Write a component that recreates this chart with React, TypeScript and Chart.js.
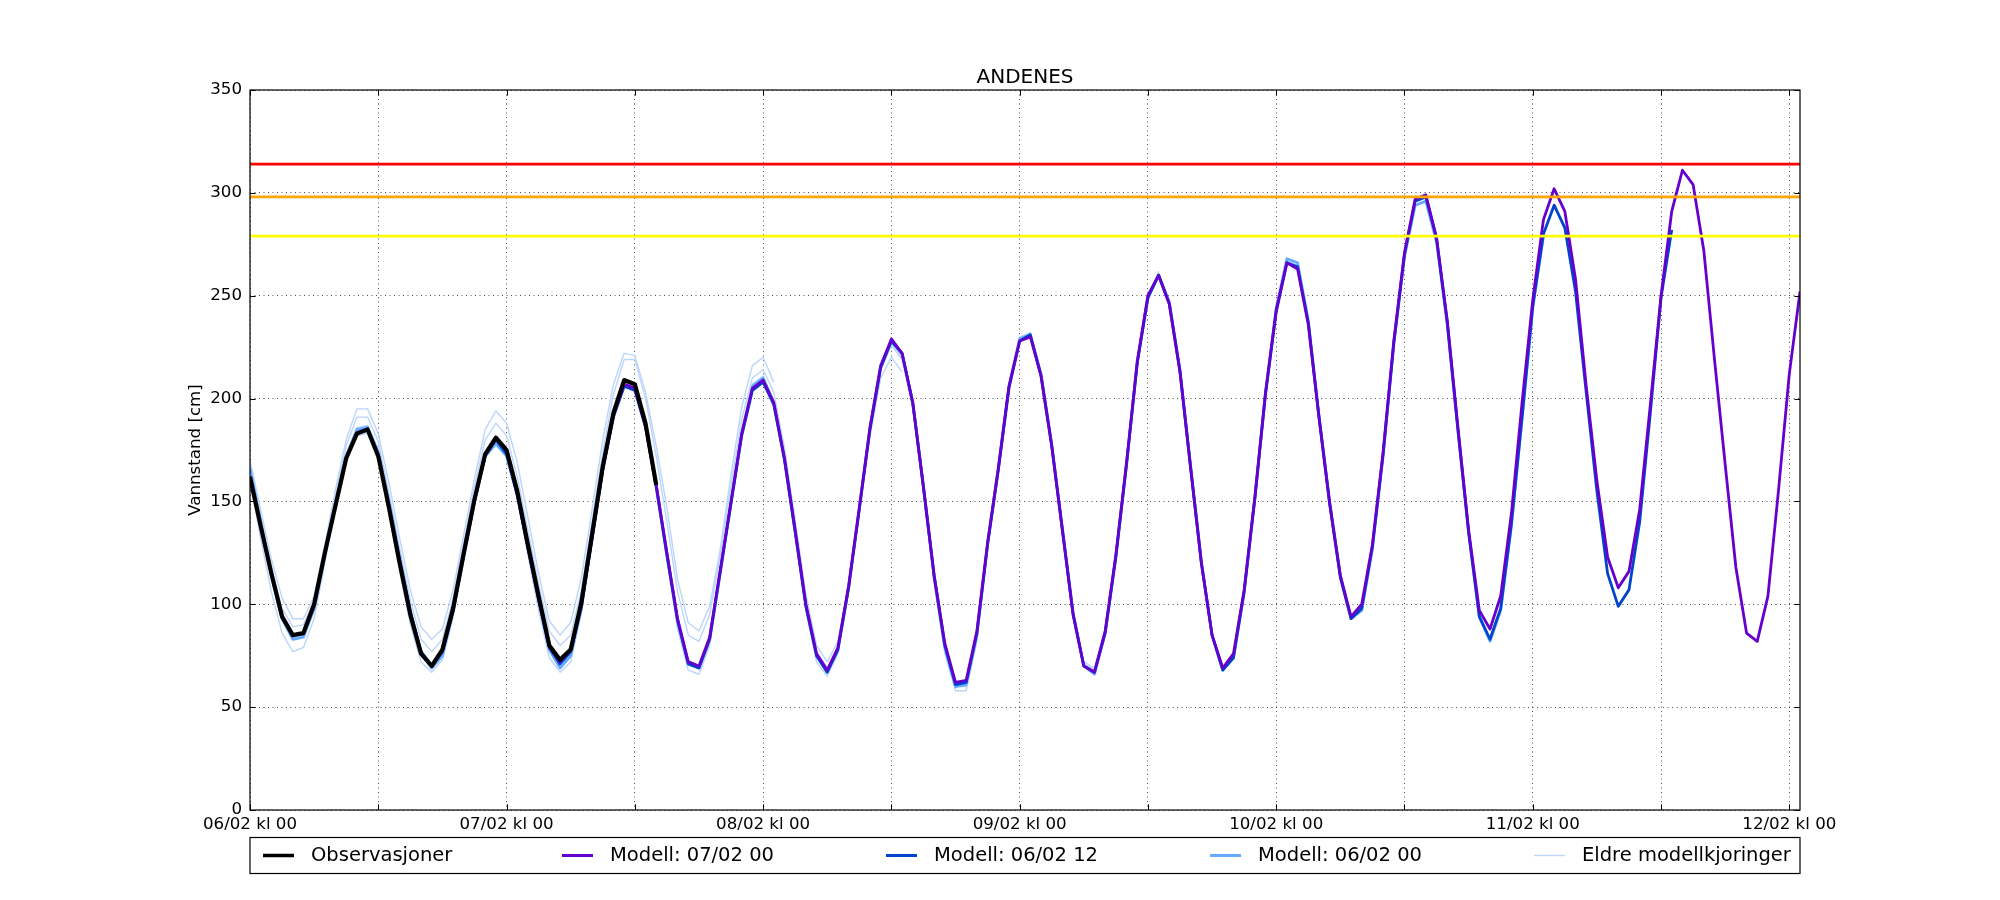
import React, { useEffect, useRef } from "react";
import { Chart, registerables } from "chart.js";

Chart.register(...registerables);

// ---------------- data ----------------
const chartTitle = "ANDENES";
const yAxisTitle = "Vannstand [cm]";

// hours since 06/02 kl 00
const xMin = 0;
const xMax = 145;
const xTickHours = [0, 12, 24, 36, 48, 60, 72, 84, 96, 108, 120, 132, 144];
const dayTickHours = [0, 24, 48, 72, 96, 120, 144];
const dayTickLabels = [
  "06/02 kl 00",
  "07/02 kl 00",
  "08/02 kl 00",
  "09/02 kl 00",
  "10/02 kl 00",
  "11/02 kl 00",
  "12/02 kl 00",
];
const yTicks = [0, 50, 100, 150, 200, 250, 300, 350];

// warning levels (cm)
const levelRed = 314;
const levelOrange = 298;
const levelYellow = 279;

// Observasjoner, from hour 0
const obsStart = 0;
const observations = [
  162, 138, 115, 94, 85, 86, 100, 125, 148, 171, 183, 185,
  172, 147, 120, 95, 76, 70, 78, 98, 125, 151, 173, 181,
  175, 155, 129, 104, 80, 73, 78, 101, 134, 167, 193, 209,
  207, 188, 158,
];

// Modell: 07/02 00, from hour 24
const model0700Start = 24;
const model0700 = [
  175, 154, 128, 103, 80, 72, 78, 100, 133, 166, 192, 207, 205, 187, 158,
  125, 93, 72, 70, 84, 117, 150, 183, 205, 209,
  198, 171, 136, 100, 76, 68, 79, 109, 147, 186, 216, 229, 222, 198, 157, 114, 81, 62, 63, 87, 130, 166, 206, 228, 230,
  211, 177, 136, 95, 70, 67, 87, 124, 169, 218, 250, 260, 246, 213, 166, 120, 85, 69, 76, 107, 152, 203, 243,
  266, 263, 236, 191, 149, 114, 94, 100, 129, 174, 228, 271, 297, 299, 278, 238, 186, 136, 97, 88, 104, 144, 198, 248,
  287, 302, 291, 258, 206, 160, 123, 108, 116, 146, 197, 250, 291, 311, 304, 272, 219, 168, 118, 86, 82, 104, 156, 212, 252,
];

// Modell: 06/02 12, from hour 12
const model0612Start = 12;
const model0612 = [
  172, 147, 121, 96, 77, 70, 77, 97, 124, 150, 172, 180,
  173, 153, 127, 102, 79, 71, 77, 99, 132, 165, 191, 206, 204, 186, 157, 124, 92, 71, 69, 83, 116, 149, 182, 204,
  208, 197, 170, 135, 99, 75, 67, 78, 108, 146, 185, 215, 228, 222, 198, 157, 114, 80, 61, 62, 86, 129, 165, 205,
  228, 231, 211, 177, 136, 95, 70, 67, 86, 123, 168, 217, 249, 260, 246, 213, 166, 120, 85, 68, 74, 106, 151, 202,
  242, 266, 264, 237, 191, 149, 113, 93, 98, 128, 173, 227, 270, 296, 298, 278, 237, 185, 135, 94, 83, 98, 139, 191,
  245, 280, 294, 283, 252, 203, 155, 115, 99, 107, 140, 193, 249, 282,
];

// Modell: 06/02 00, from hour 0
const model0600Start = 0;
const model0600 = [
  166, 140, 114, 93, 83, 84, 98, 124, 149, 172, 185, 186,
  174, 150, 123, 97, 76, 69, 75, 96, 123, 150, 172, 178,
  172, 153, 128, 102, 78, 69, 75, 98, 132, 166, 192, 206,
  205, 187, 158, 125, 92, 71, 69, 83, 116, 150, 183, 206,
  210, 198, 171, 136, 100, 75, 67, 78, 108, 147, 186, 216,
  228, 222, 198, 157, 113, 79, 60, 61, 85, 129, 166, 206,
  229, 231, 212, 178, 137, 96, 70, 66, 86, 123, 168, 218,
  250, 260, 247, 214, 167, 121, 85, 68, 74, 106, 152, 203,
  244, 268, 266, 238, 192, 150, 114, 93, 97, 127, 172, 226,
  269, 294, 296, 276, 236, 184, 135, 94, 82, 97, 138, 190,
  244, 279,
];

// Eldre modellkjoringer (older runs), all from hour 0
const olderStart = 0;
const older0512 = [
  163, 139, 114, 94, 84, 85, 98, 123, 149, 172, 184, 185, 173, 149, 122, 96, 76, 70, 76, 96, 123, 150, 172, 179,
  173, 153, 127, 102, 79, 71, 77, 99, 132, 166, 192, 207, 205, 187, 158, 125, 92, 71, 69, 83, 116, 150, 183, 205,
  209, 198, 171, 136, 100, 75, 68, 78, 108, 147, 186, 215, 227, 221, 197, 156, 113, 79, 60, 61, 85, 129, 166, 206,
  229, 232, 212, 178, 137, 96, 71, 68, 87, 124, 169, 218, 248, 261, 247, 213, 166, 120, 85, 69, 75, 107, 152, 203,
  243, 267, 265, 237, 191, 149, 114, 94, 99, 128, 173, 227, 270, 296,
];
const older0500 = [
  165, 140, 115, 94, 84, 85, 98, 123, 149, 172, 185, 186,
  174, 150, 123, 97, 77, 70, 76, 96, 123, 150, 172, 179,
  173, 153, 127, 102, 79, 71, 77, 99, 132, 166, 192, 207,
  206, 188, 159, 126, 93, 72, 70, 84, 117, 151, 184, 206,
  210, 198, 171, 136, 100, 76, 68, 78, 108, 147, 186, 216,
  228, 221, 197, 156, 113, 79, 60, 60, 84, 129, 166, 206,
  229, 231, 212, 178, 137, 96, 72, 69, 88, 124, 169, 217,
  248, 259, 246, 213, 166, 120, 85, 69, 75, 106, 151, 202,
  242, 265,
];
const older0412 = [
  164, 139, 115, 95, 85, 86, 99, 124, 150, 173, 186, 187,
  175, 151, 124, 98, 78, 71, 77, 97, 124, 151, 174, 182,
  176, 155, 129, 104, 81, 73, 78, 100, 133, 167, 194, 209,
  207, 189, 160, 127, 94, 73, 70, 84, 117, 151, 185, 207,
  211, 199, 172, 137, 101, 77, 69, 79, 108, 146, 185, 214,
  226, 220, 197, 157, 114, 80, 61, 61, 84, 128, 166, 206,
  229, 232, 213, 178, 137, 96, 71, 68, 88, 125, 170, 218,
  247, 262,
];
const older0400 = [
  160, 132, 106, 86, 77, 79, 93, 120, 147, 171, 182, 183,
  170, 144, 116, 90, 72, 67, 73, 94, 122, 150, 173, 181,
  174, 152, 124, 97, 74, 67, 72, 96, 130, 165, 192, 207,
  205, 185, 155, 121, 88, 68, 66, 80, 113, 148, 182, 205,
  209, 197, 169, 133, 97, 72, 65, 76, 106, 145, 184, 214,
  226, 219, 195, 154, 110, 76, 58, 58, 82, 127, 166, 207,
  230, 232,
];
const older0312 = [
  168, 143, 118, 98, 89, 90, 102, 127, 153, 177, 191, 191,
  179, 154, 127, 102, 83, 77, 83, 103, 130, 157, 180, 188,
  182, 162, 136, 110, 87, 80, 85, 107, 140, 174, 202, 219,
  219, 200, 172, 140, 106, 85, 82, 95, 124, 158, 190, 210,
  214, 203, 176, 141, 105, 80, 72, 82, 110, 146, 182, 210,
  220, 213,
];
const older0300 = [
  170, 146, 122, 103, 93, 93, 104, 129, 156, 180, 195, 195,
  183, 159, 132, 107, 89, 83, 88, 107, 134, 161, 185, 194,
  188, 169, 142, 115, 92, 85, 91, 113, 146, 180, 207, 222,
  221, 203, 177, 147, 112, 91, 87, 99, 127, 163, 196, 216,
  220, 208,
];

const legendLabels = [
  "Observasjoner",
  "Modell: 07/02 00",
  "Modell: 06/02 12",
  "Modell: 06/02 00",
  "Eldre modellkjoringer",
];

// ---------------- styling ----------------
const FONT = "'DejaVu Sans', 'Liberation Sans', sans-serif";
const colObs = "#000000";
const colM0700 = "#6600cc";
const colM0612 = "#0044cc";
const colM0600 = "#66aaff";
const colOld = "#bcd5fb";
const legendColors = [colObs, colM0700, colM0612, colM0600, colOld];
const legendWidths = [3.5, 3, 3, 3, 1.4];

const toPoints = (start: number, arr: number[]) =>
  arr.map((v, i) => ({ x: start + i, y: v }));

const hLine = (y: number) => [
  { x: xMin, y },
  { x: xMax, y },
];

const framePlugin = {
  id: "framePlugin",
  afterDraw(chart: any) {
    const { ctx, chartArea } = chart;
    const { left, right, top, bottom } = chartArea;
    const xs = chart.scales.x;
    const ys = chart.scales.y;
    ctx.save();
    // frame
    ctx.strokeStyle = "#000";
    ctx.lineWidth = 1.2;
    ctx.strokeRect(left, top, right - left, bottom - top);
    // inward ticks
    ctx.lineWidth = 1;
    const tl = 5.6;
    ctx.beginPath();
    xTickHours.forEach((h) => {
      const px = Math.round(xs.getPixelForValue(h)) + 0.5;
      ctx.moveTo(px, bottom);
      ctx.lineTo(px, bottom - tl);
      ctx.moveTo(px, top);
      ctx.lineTo(px, top + tl);
    });
    yTicks.forEach((v) => {
      const py = Math.round(ys.getPixelForValue(v)) + 0.5;
      ctx.moveTo(left, py);
      ctx.lineTo(left + tl, py);
      ctx.moveTo(right, py);
      ctx.lineTo(right - tl, py);
    });
    ctx.stroke();

    // title
    ctx.fillStyle = "#000";
    ctx.font = `20px ${FONT}`;
    ctx.textAlign = "center";
    ctx.textBaseline = "alphabetic";
    ctx.fillText(chartTitle, (left + right) / 2, top - 7);

    // y axis title
    ctx.save();
    ctx.translate(left - 54, (top + bottom) / 2);
    ctx.rotate(-Math.PI / 2);
    ctx.font = `16.67px ${FONT}`;
    ctx.textAlign = "center";
    ctx.textBaseline = "middle";
    ctx.fillText(yAxisTitle, 0, 0);
    ctx.restore();

    // legend
    const boxTop = bottom + 27.5;
    const boxH = 36;
    ctx.lineWidth = 1.2;
    ctx.strokeStyle = "#000";
    ctx.strokeRect(left, boxTop, right - left, boxH);
    const cy = boxTop + boxH / 2;
    const offsets = [13, 312, 636, 960, 1284];
    ctx.font = `19.5px ${FONT}`;
    ctx.textAlign = "left";
    ctx.textBaseline = "middle";
    legendLabels.forEach((lab, i) => {
      const x0 = left + offsets[i];
      ctx.strokeStyle = legendColors[i];
      ctx.lineWidth = legendWidths[i];
      ctx.beginPath();
      ctx.moveTo(x0, cy);
      ctx.lineTo(x0 + 31, cy);
      ctx.stroke();
      ctx.fillStyle = "#000";
      ctx.fillText(lab, x0 + 48, cy);
    });
    ctx.restore();
  },
};

export default function App() {
  const ref = useRef<HTMLCanvasElement | null>(null);

  useEffect(() => {
    document.body.style.margin = "0";
    const canvas = ref.current;
    if (!canvas) return;

    const lineDs = (label: string, data: any[], color: string, width: number, order: number) => ({
      label,
      data,
      borderColor: color,
      backgroundColor: color,
      borderWidth: width,
      pointRadius: 0,
      pointHoverRadius: 0,
      fill: false,
      tension: 0,
      borderJoinStyle: "round" as const,
      borderCapStyle: "butt" as const,
      order,
    });

    const chart = new Chart(canvas, {
      type: "line",
      data: {
        datasets: [
          lineDs("Rød", hLine(levelRed), "#ff0000", 2.8, -3),
          lineDs("Oransje", hLine(levelOrange), "#ffa500", 2.8, -2),
          lineDs("Gul", hLine(levelYellow), "#ffff00", 2.8, -1),
          lineDs("Observasjoner", toPoints(obsStart, observations), colObs, 4.2, 0),
          lineDs("Modell: 07/02 00", toPoints(model0700Start, model0700), colM0700, 2.8, 1),
          lineDs("Modell: 06/02 12", toPoints(model0612Start, model0612), colM0612, 2.8, 2),
          lineDs("Modell: 06/02 00", toPoints(model0600Start, model0600), colM0600, 2.8, 3),
          lineDs("Eldre 05/02 12", toPoints(olderStart, older0512), colOld, 1.4, 4),
          lineDs("Eldre 05/02 00", toPoints(olderStart, older0500), colOld, 1.4, 5),
          lineDs("Eldre 04/02 12", toPoints(olderStart, older0412), colOld, 1.4, 6),
          lineDs("Eldre 04/02 00", toPoints(olderStart, older0400), colOld, 1.4, 7),
          lineDs("Eldre 03/02 12", toPoints(olderStart, older0312), colOld, 1.4, 8),
          lineDs("Eldre 03/02 00", toPoints(olderStart, older0300), colOld, 1.4, 9),
        ],
      },
      options: {
        responsive: false,
        maintainAspectRatio: false,
        animation: false,
        devicePixelRatio: 1,
        events: [],
        layout: { padding: { left: 0, right: 200, top: 90, bottom: 0 } },
        plugins: {
          legend: { display: false },
          title: { display: false },
          tooltip: { enabled: false },
        },
        scales: {
          x: {
            type: "linear",
            min: xMin,
            max: xMax,
            afterBuildTicks: (scale: any) => {
              scale.ticks = xTickHours.map((v) => ({ value: v }));
            },
            afterFit: (scale: any) => {
              scale.height = 90;
            },
            ticks: {
              autoSkip: false,
              maxRotation: 0,
              minRotation: 0,
              padding: 5,
              color: "#000",
              font: { family: FONT, size: 16.67 },
              callback: (value: any) => {
                const idx = dayTickHours.indexOf(Number(value));
                return idx >= 0 ? dayTickLabels[idx] : "";
              },
            },
            grid: {
              color: "#000",
              lineWidth: 0.7,
              drawTicks: false,
            },
            border: { display: false, dash: [1, 3.5] },
          },
          y: {
            type: "linear",
            min: 0,
            max: 350,
            afterBuildTicks: (scale: any) => {
              scale.ticks = yTicks.map((v) => ({ value: v }));
            },
            afterFit: (scale: any) => {
              scale.width = 250;
            },
            ticks: {
              padding: 8,
              color: "#000",
              font: { family: FONT, size: 16.67 },
              callback: (value: any) => String(value),
            },
            grid: {
              color: "#000",
              lineWidth: 0.7,
              drawTicks: false,
            },
            border: { display: false, dash: [1, 3.5] },
          },
        },
      },
      plugins: [framePlugin],
    });

    return () => {
      chart.destroy();
    };
  }, []);

  return (
    <div style={{ width: 2000, height: 900, background: "#fff" }}>
      <canvas ref={ref} width={2000} height={900} style={{ display: "block", width: 2000, height: 900 }} />
    </div>
  );
}
